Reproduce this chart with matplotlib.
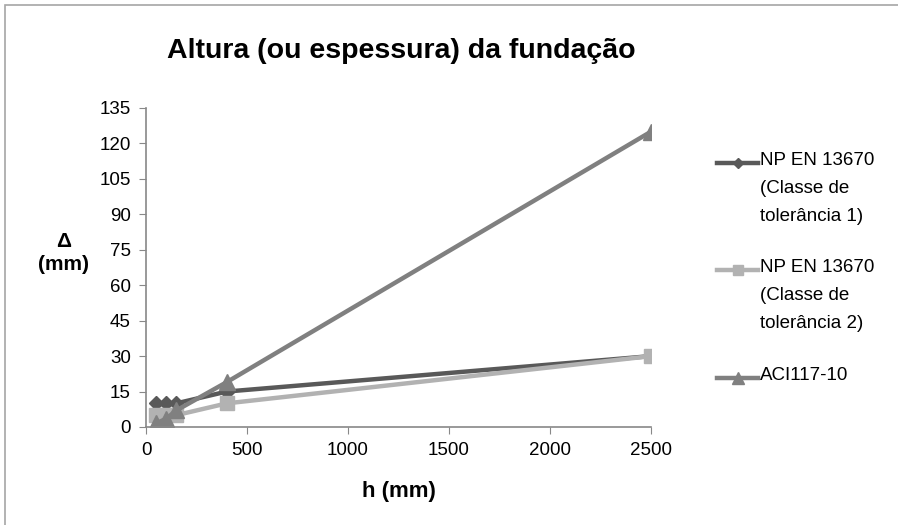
import matplotlib.pyplot as plt
from matplotlib.patches import Rectangle
from matplotlib.lines import Line2D

plt.rcParams['font.family'] = ['Liberation Sans', 'DejaVu Sans']

# dados
h = [50, 100, 150, 400, 2500]
classe1 = [10, 10, 10, 15, 30]
classe2 = [5, 5, 5, 10, 30]
aci = [1.5, 3.5, 7, 19, 125]
nomes = ["NP EN 13670\n(Classe de\ntolerância 1)",
         "NP EN 13670\n(Classe de\ntolerância 2)",
         "ACI117-10"]
xticks = [0, 500, 1000, 1500, 2000, 2500]
yticks = list(range(0, 136, 15))

fig = plt.figure(figsize=(8.98, 5.25), dpi=100)
ax = fig.add_axes([0.1626, 0.1867, 0.5624, 0.6076])

# moldura do gráfico
fig.patches.append(Rectangle((0.006, -0.05), 1.2, 1.04, transform=fig.transFigure,
                             fill=False, edgecolor='#a6a6a6', linewidth=1.2))

estilos = [dict(color='#595959', marker='D', markersize=7),
           dict(color='#b2b2b2', marker='s', markersize=10),
           dict(color='#808080', marker='^', markersize=11)]
series = [classe1, classe2, aci]
for ys, st in zip(series, estilos):
    ax.plot(h, ys, linewidth=3.2, **st)

ax.set_xlim(0, 2500)
ax.set_ylim(0, 135)
ax.set_xticks(xticks)
ax.set_yticks(yticks)
ax.tick_params(labelsize=13.5, length=5, color='#888888', pad=6)
for s in ['top', 'right']:
    ax.spines[s].set_visible(False)
for s in ['left', 'bottom']:
    ax.spines[s].set_color('#888888')
    ax.spines[s].set_linewidth(1.2)

fig.text(0.447, 0.902, "Altura (ou espessura) da fundação", ha='center', va='center',
         fontsize=20.5, fontweight='bold')
fig.text(0.071, 0.518, "Δ\n(mm)", ha='center', va='center', fontsize=15,
         fontweight='bold', linespacing=1.25)
ax.set_xlabel("h (mm)", fontsize=16, fontweight='bold', labelpad=16)

# legenda desenhada à mão (linha alinhada com a 1ª linha do texto)
W, H = 898, 525
ys_leg = [163, 270, 378]
for nome, st, yp in zip(nomes, estilos, ys_leg):
    yf = 1 - yp / H
    fig.add_artist(Line2D([717 / W, 758 / W], [yf, yf], linewidth=3.2,
                          color=st['color']))
    fig.add_artist(Line2D([737.5 / W], [yf], linestyle='none', color=st['color'],
                          marker=st['marker'], markersize=st['markersize'] * 0.75))
    fig.text(760 / W, yf + 0.021, nome, ha='left', va='top', fontsize=13.5,
             linespacing=1.85)

fig.savefig("out.png", dpi=100)
